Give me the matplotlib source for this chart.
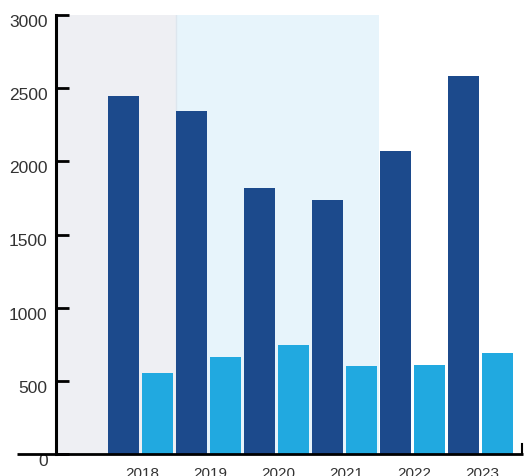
import matplotlib.pyplot as plt
import matplotlib.transforms as mtransforms
import numpy as np

plt.rcParams['font.family'] = ['Liberation Sans', 'DejaVu Sans']

years = ['2018', '2019', '2020', '2021', '2022', '2023']
dark_vals = [2446, 2344, 1818, 1736, 2071, 2583]
light_vals = [554, 663, 745, 601, 608, 690]
y_ticks = [0, 500, 1000, 1500, 2000, 2500, 3000]

DARK = '#1c4a8c'
LIGHT = '#21a9e0'

fig = plt.figure(figsize=(5.25, 4.77), dpi=100)
ax = fig.add_axes([56 / 525, 22 / 477, 467 / 525, 439 / 477])

x = np.arange(len(years))
w = 0.456

# shaded background periods
ax.axvspan(-1.3, 0.522, color='#eeeff3', lw=0, zorder=0)
ax.axvspan(0.522, 3.505, color='#e7f4fb', lw=0, zorder=0)
ax.axvline(0.522, color='#dde6ee', lw=1, zorder=0.5)

ax.bar(x - 0.25, dark_vals, w, color=DARK, zorder=2)
ax.bar(x + 0.25, light_vals, w, color=LIGHT, zorder=2)

ax.set_xlim(-1.2426, 5.625)
ax.set_ylim(0, 3000)

ax.set_yticks(y_ticks)
ax.tick_params(axis='y', direction='in', length=9, width=2, pad=6,
               labelsize=12.5, labelcolor='#333333', color='black')
off = mtransforms.ScaledTranslation(0, -5 / 100, fig.dpi_scale_trans)
for lab in ax.get_yticklabels():
    lab.set_transform(lab.get_transform() + off)

ax.set_xticks(x + 0.03)
ax.set_xticklabels(years)
ax.tick_params(axis='x', length=0, pad=9, labelsize=11, labelcolor='#333333')

for s in ['top', 'right', 'bottom']:
    ax.spines[s].set_visible(False)
ax.spines['left'].set_linewidth(2.2)
ax.spines['left'].set_zorder(5)

# long baseline extending left of the y axis, with a small end tick
ax.plot([-0.0835, 1.0], [0, 0], transform=ax.transAxes, color='black',
        lw=2, clip_on=False, zorder=6, solid_capstyle='butt')
ax.plot([0.998, 0.998], [0, 0.023], transform=ax.transAxes, color='black',
        lw=1.5, clip_on=False, zorder=6)

fig.savefig('out.png', dpi=100)
